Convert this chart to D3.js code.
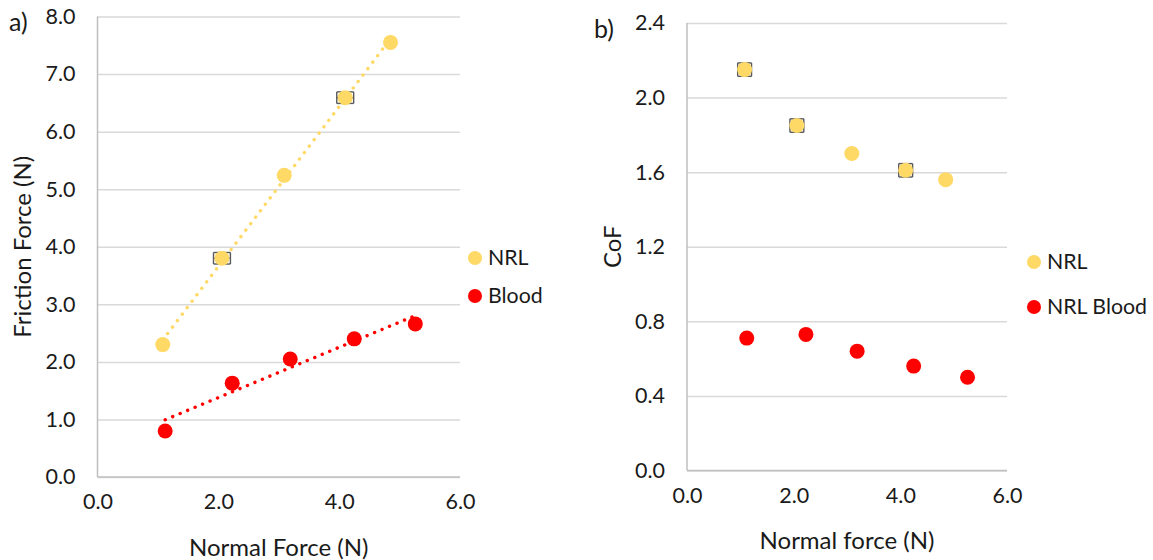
<!DOCTYPE html>
<html>
<head>
<meta charset="utf-8">
<script src="https://cdn.jsdelivr.net/npm/d3@7"></script>
<style>
  html, body { margin: 0; padding: 0; background: #fff; }
  svg { display: block; }
  text { font-family: Lato, "Open Sans", sans-serif; }
</style>
</head>
<body>
<svg id="chart" width="1153" height="560"></svg>
<script>
// ---- data ----
const normalNRL = [1.08, 2.06, 3.09, 4.10, 4.85];
const normalBlood = [1.12, 2.23, 3.19, 4.25, 5.26];
const frictionNRL = [2.30, 3.80, 5.24, 6.59, 7.55];
const frictionBlood = [0.80, 1.63, 2.05, 2.40, 2.66];
const frictionNRLxErr = [0, 0.14, 0, 0.14, 0];
const frictionNRLyErr = [0, 0.10, 0, 0.10, 0];
const cofNRL = [2.15, 1.85, 1.70, 1.61, 1.56];
const cofBlood = [0.71, 0.73, 0.64, 0.56, 0.50];
const cofNRLxErr = [0.13, 0.13, 0, 0.13, 0];
const cofNRLyErr = [0.036, 0.036, 0, 0.036, 0];
const xTicks = [0, 2, 4, 6];
const frictionTicks = [0, 1, 2, 3, 4, 5, 6, 7, 8];
const cofTicks = [0, 0.4, 0.8, 1.2, 1.6, 2.0, 2.4];
const legendA = ["NRL", "Blood"];
const legendB = ["NRL", "NRL Blood"];

const COL_NRL = "#FFD966";
const COL_BLOOD = "#FF0000";
const GRID = "#d9d9d9";
const AXIS = "#bfbfbf";
const TXT = "#1a1a1a";
const TICK_FS = 21.5;
const TITLE_FS = 24;
const LEG_FS = 21.3;
const R = 7.5;

const svg = d3.select("#chart");

function regression(xs, ys) {
  const mx = d3.mean(xs), my = d3.mean(ys);
  let sxy = 0, sxx = 0;
  xs.forEach((x, i) => { sxy += (x - mx) * (ys[i] - my); sxx += (x - mx) * (x - mx); });
  const b = sxy / sxx;
  return { b, a: my - b * mx };
}

function panel(opts) {
  const x = d3.scaleLinear().domain([0, 6]).range([opts.x0, opts.x1]);
  const y = d3.scaleLinear().domain(opts.yDomain).range([opts.yBot, opts.yTop]);
  const g = svg.append("g");

  // gridlines + y ticks
  const ya = g.append("g").attr("transform", `translate(${opts.x0},0)`)
    .call(d3.axisLeft(y).tickValues(opts.yTicks).tickFormat(d3.format(".1f"))
      .tickSize(-(opts.x1 - opts.x0)).tickPadding(22));
  ya.select(".domain").remove();
  ya.selectAll(".tick line").attr("stroke", GRID).attr("stroke-width", 1.5);
  ya.selectAll(".tick text").attr("fill", TXT).style("font-size", TICK_FS + "px");

  // x ticks
  const xa = g.append("g").attr("transform", `translate(0,${opts.yBot})`)
    .call(d3.axisBottom(x).tickValues(xTicks).tickFormat(d3.format(".1f"))
      .tickSize(0).tickPadding(17));
  xa.select(".domain").remove();
  xa.selectAll(".tick text").attr("fill", TXT).style("font-size", TICK_FS + "px");

  // axis lines
  g.append("line").attr("x1", opts.x0).attr("x2", opts.x0).attr("y1", opts.yTop).attr("y2", opts.yBot)
    .attr("stroke", AXIS).attr("stroke-width", 1.5);
  g.append("line").attr("x1", opts.x0).attr("x2", opts.x1).attr("y1", opts.yBot).attr("y2", opts.yBot)
    .attr("stroke", AXIS).attr("stroke-width", 1.5);

  // titles
  g.append("text").attr("x", (opts.x0 + opts.x1) / 2).attr("y", opts.xTitleY)
    .attr("text-anchor", "middle").attr("fill", TXT).style("font-size", TITLE_FS + "px").text(opts.xTitle);
  g.append("text").attr("transform", `translate(${opts.yTitleX},${(opts.yTop + opts.yBot) / 2}) rotate(-90)`)
    .attr("text-anchor", "middle").attr("fill", TXT).style("font-size", TITLE_FS + "px").text(opts.yTitle);
  g.append("text").attr("x", opts.panelX).attr("y", opts.panelY)
    .attr("fill", TXT).style("font-size", "25px").text(opts.panel);

  // trendlines
  (opts.trends || []).forEach(t => {
    const r = regression(t.xs, t.ys);
    const x1 = d3.min(t.xs), x2 = d3.max(t.xs);
    g.append("line")
      .attr("x1", x(x1)).attr("y1", y(r.a + r.b * x1))
      .attr("x2", x(x2)).attr("y2", y(r.a + r.b * x2))
      .attr("stroke", t.color).attr("stroke-width", 3.4)
      .attr("stroke-linecap", "round").attr("stroke-dasharray", "0.1 8");
  });

  // error bars
  (opts.errs || []).forEach(e => {
    e.xs.forEach((xv, i) => {
      const xe = e.xe[i], ye = e.ye[i];
      if (!xe && !ye) return;
      const cx = x(xv), cy = y(e.ys[i]);
      const hx = x(xv + xe) - cx, hy = cy - y(e.ys[i] + ye);
      const eg = g.append("g").attr("stroke", "#595959").attr("stroke-width", 1.4).attr("fill", "none");
      eg.append("line").attr("x1", cx - hx).attr("x2", cx + hx).attr("y1", cy).attr("y2", cy);
      eg.append("line").attr("x1", cx).attr("x2", cx).attr("y1", cy - hy).attr("y2", cy + hy);
      [-1, 1].forEach(s => {
        eg.append("line").attr("x1", cx + s * hx).attr("x2", cx + s * hx).attr("y1", cy - hy).attr("y2", cy + hy);
        eg.append("line").attr("x1", cx - hx).attr("x2", cx + hx).attr("y1", cy + s * hy).attr("y2", cy + s * hy);
      });
    });
  });

  // points
  opts.series.forEach(s => {
    g.append("g").selectAll("circle").data(s.xs).join("circle")
      .attr("cx", d => x(d)).attr("cy", (d, i) => y(s.ys[i])).attr("r", R).attr("fill", s.color);
  });

  // legend
  opts.legend.forEach((name, i) => {
    const ly = opts.legY[i];
    g.append("circle").attr("cx", opts.legX).attr("cy", ly).attr("r", 7).attr("fill", opts.series[i].color);
    g.append("text").attr("x", opts.legX + 13).attr("y", ly).attr("dy", "0.35em")
      .attr("fill", TXT).style("font-size", LEG_FS + "px").text(name);
  });
}

panel({
  x0: 97.5, x1: 460, yTop: 16.5, yBot: 477, yDomain: [0, 8], yTicks: frictionTicks,
  xTitle: "Normal Force (N)", yTitle: "Friction Force (N)", xTitleY: 556, yTitleX: 31,
  panel: "a)", panelX: 9, panelY: 31,
  series: [{ xs: normalNRL, ys: frictionNRL, color: COL_NRL }, { xs: normalBlood, ys: frictionBlood, color: COL_BLOOD }],
  trends: [{ xs: normalNRL, ys: frictionNRL, color: COL_NRL }, { xs: normalBlood, ys: frictionBlood, color: COL_BLOOD }],
  errs: [{ xs: normalNRL, ys: frictionNRL, xe: frictionNRLxErr, ye: frictionNRLyErr }],
  legend: legendA, legX: 475, legY: [258, 296]
});

panel({
  x0: 687, x1: 1007, yTop: 23, yBot: 470.5, yDomain: [0, 2.4], yTicks: cofTicks,
  xTitle: "Normal force (N)", yTitle: "CoF", xTitleY: 549, yTitleX: 621,
  panel: "b)", panelX: 594, panelY: 38,
  series: [{ xs: normalNRL, ys: cofNRL, color: COL_NRL }, { xs: normalBlood, ys: cofBlood, color: COL_BLOOD }],
  errs: [{ xs: normalNRL, ys: cofNRL, xe: cofNRLxErr, ye: cofNRLyErr }],
  legend: legendB, legX: 1034, legY: [262, 307]
});
</script>
</body>
</html>
